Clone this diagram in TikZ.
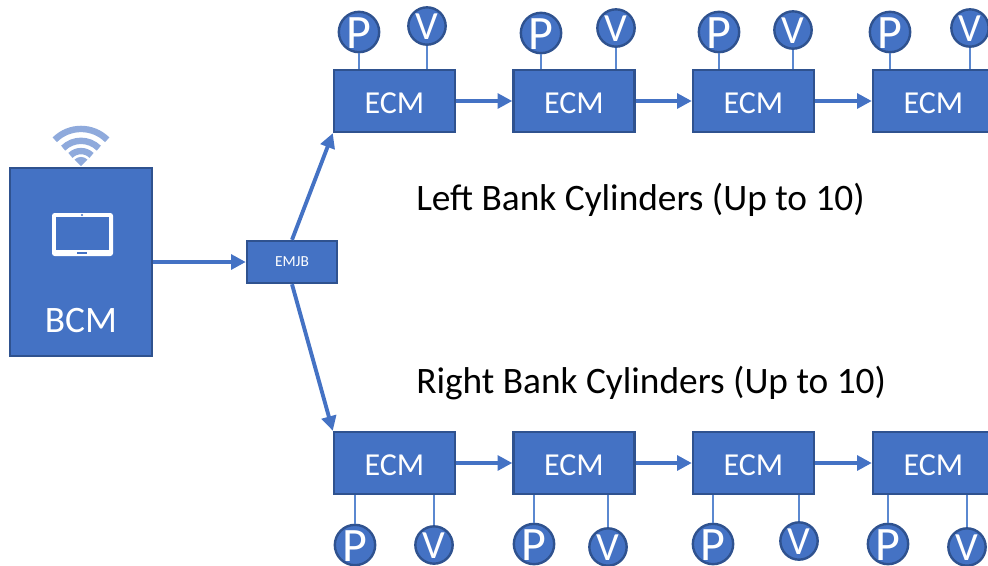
\documentclass[tikz,border=0pt]{standalone}
\usepackage{fontspec}
\setmainfont{Carlito}
\usetikzlibrary{positioning,arrows.meta}
\definecolor{boxblue}{HTML}{4472C4}
\definecolor{boxedge}{HTML}{2F528F}
\definecolor{wifiblue}{HTML}{8FAADC}
\definecolor{stemblue}{HTML}{5B88D0}
\tikzset{
  boxnode/.style={draw=boxedge,fill=boxblue,line width=1.8pt,text=white,inner sep=0pt},
  ecm/.style={boxnode,minimum width=90.75pt,minimum height=46.5pt,text height=19pt,text depth=0pt,font=\fontsize{24}{24}\selectfont},
  sensorP/.style={boxnode,circle,minimum size=30pt,text height=24pt,text depth=0pt,font=\fontsize{36}{36}\selectfont},
  sensorV/.style={boxnode,circle,minimum size=28pt,text height=20pt,text depth=0pt,font=\fontsize{30}{30}\selectfont},
  link/.style={draw=boxblue,line width=2.9pt,-{Triangle[length=11pt,width=11pt]}},
  stem/.style={draw=stemblue,line width=1.1pt},
  caption/.style={anchor=west,inner sep=0pt,font=\fontsize{28}{28}\selectfont},
}
\begin{document}
\begin{tikzpicture}[x=0.75pt,y=-0.75pt]
\useasboundingbox (0,0) rectangle (988,565);
\clip (0,0) rectangle (988,565);

% Main boxes
\node[boxnode,minimum width=106.5pt,minimum height=141pt] (BCM) at (81,262) {};
\node[text=white,inner sep=0pt,font=\fontsize{28}{28}\selectfont] (BCMtext) at (81,321) {BCM};
\node[boxnode,minimum width=67.5pt,minimum height=31.5pt,font=\fontsize{11.5}{11.5}\selectfont] (EMJB) at (292,262) {EMJB};

% Left bank, top row
\foreach \i/\ex/\px/\py/\vx/\vy in {1/394.5/359/32/427/26,2/574/541/33/616/28,3/753.5/719/32/793/30,4/933.5/890/32/970/28}{
  \node[ecm] (L\i) at (\ex,101) {ECM};
  \node[sensorP] (LP\i) at (\px,\py) {P};
  \node[sensorV] (LV\i) at (\vx,\vy) {V};
  \draw[stem] (LP\i.south) -- (LP\i.south |- L\i.north);
  \draw[stem] (LV\i.south) -- (LV\i.south |- L\i.north);
}

% Right bank, bottom row
\foreach \i/\ex/\px/\py/\vx/\vy in {1/394.5/355/545/434/545,2/574/534/544/608/547,3/753.5/713/544/799/541,4/933.5/888/544/967/547}{
  \node[ecm] (R\i) at (\ex,463) {ECM};
  \node[sensorP] (RP\i) at (\px,\py) {P};
  \node[sensorV] (RV\i) at (\vx,\vy) {V};
  \draw[stem] (RP\i.north) -- (RP\i.north |- R\i.south);
  \draw[stem] (RV\i.north) -- (RV\i.north |- R\i.south);
}

% Arrows along the rows
\foreach \i/\j in {1/2,2/3,3/4}{
  \draw[link] (L\i) -- (L\j);
  \draw[link] (R\i) -- (R\j);
}
\draw[link] (BCM.east |- EMJB.west) -- (EMJB.west);
\draw[link] (EMJB.north) -- (L1.south west);
\draw[link] (EMJB.south) -- (R1.north west);

% Captions
\node[caption] (LeftText) at (416,199.5) {Left Bank Cylinders (Up to 10)};
\node[caption] (RightText) at (416,383.5) {Right Bank Cylinders (Up to 10)};

% Wifi icon
\coordinate (WIFI) at (81,166);
\foreach \r in {27.8,18.9,11.2}{
  \draw[wifiblue,line width=4.8pt] (WIFI) ++(135:\r pt) arc[start angle=135,end angle=45,radius=\r pt];
}
\fill[wifiblue] (WIFI) -- ++(135:6.8pt) arc[start angle=135,end angle=45,radius=6.8pt] -- cycle;

% Tablet icon
\fill[white,rounded corners=2pt] (52,213) rectangle (113,256);
\fill[boxblue] (56,217) rectangle (109,250);
\fill[boxblue] (77,252) rectangle (87,254);
\fill[boxblue] (82,215) circle (0.8pt);
\end{tikzpicture}
\end{document}
